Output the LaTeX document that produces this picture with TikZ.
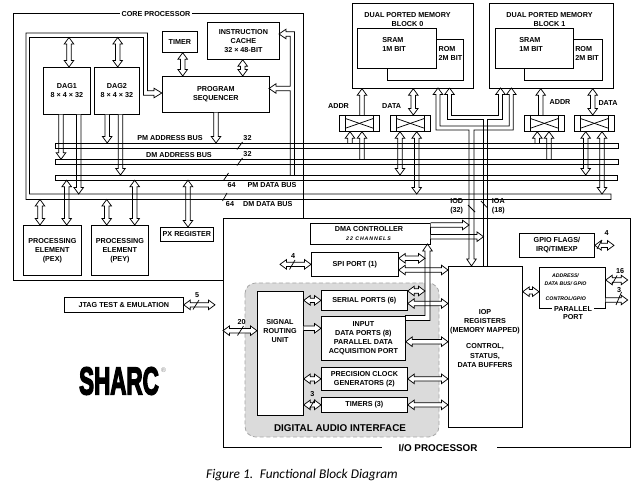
\documentclass[tikz,border=0pt]{standalone}
\usepackage{fontspec}
\setmainfont{Liberation Sans}
\newfontfamily\capfont{Carlito}
\newfontfamily\logofont{Liberation Sans}[BoldFeatures={FakeBold=4.5}]
\usetikzlibrary{calc}
\newcommand\smf{\fontsize{5.4}{6.8}\selectfont\bfseries}
\newcommand\bgf{\fontsize{7.4}{8}\selectfont\bfseries}
\newcommand\tnf{\fontsize{3.9}{6}\selectfont\bfseries\itshape}
\def\aw{1.65pt}\def\ahw{3.6pt}\def\ahl{4.9pt}
\tikzset{
 ln/.style={line width=0.55pt},
 box/.style={draw,ln,fill=white,inner sep=0pt,align=center,font=\smf},
 lbl/.style={inner sep=0pt,align=center,font=\smf},
 sarr/.style={draw,ln,fill=white,to path={
   let \p1=(\tikztostart),\p2=(\tikztotarget),
       \n1={atan2(\y2-\y1,\x2-\x1)},\n2={veclen(\x2-\x1,\y2-\y1)} in
   ($(\p1)+({\n1+90}:\aw)$) -- ($(\p1)+(\n1:{\n2-\ahl})+({\n1+90}:\aw)$)
   -- ($(\p1)+(\n1:{\n2-\ahl})+({\n1+90}:\ahw)$) -- (\p2)
   -- ($(\p1)+(\n1:{\n2-\ahl})+({\n1-90}:\ahw)$) -- ($(\p1)+(\n1:{\n2-\ahl})+({\n1-90}:\aw)$)
   -- ($(\p1)+({\n1-90}:\aw)$)}},
 darr/.style={draw,ln,fill=white,to path={
   let \p1=(\tikztostart),\p2=(\tikztotarget),
       \n1={atan2(\y2-\y1,\x2-\x1)},\n2={veclen(\x2-\x1,\y2-\y1)} in
   ($(\p1)+(\n1:\ahl)+({\n1+90}:\aw)$) -- ($(\p1)+(\n1:{\n2-\ahl})+({\n1+90}:\aw)$)
   -- ($(\p1)+(\n1:{\n2-\ahl})+({\n1+90}:\ahw)$) -- (\p2)
   -- ($(\p1)+(\n1:{\n2-\ahl})+({\n1-90}:\ahw)$) -- ($(\p1)+(\n1:{\n2-\ahl})+({\n1-90}:\aw)$)
   -- ($(\p1)+(\n1:\ahl)+({\n1-90}:\aw)$) -- ($(\p1)+(\n1:\ahl)+({\n1-90}:\ahw)$)
   -- (\p1) -- ($(\p1)+(\n1:\ahl)+({\n1+90}:\ahw)$) -- cycle}},
}
\newcommand\bx[7][]{%
  \pgfmathsetmacro\bxw{(#5-#3)*0.75}%
  \pgfmathsetmacro\bxh{(#6-#4)*0.75}%
  \node[box,minimum width=\bxw pt,minimum height=\bxh pt,anchor=north west,#1] (#2) at (#3,#4) {#7};}
\newcommand\swb[3]{%
  \bx{#1}{#2}{#3}{#2+40}{#3+16}{}%
  \draw[ln] ($(#1.north west)+(6.4,0)$) -- ($(#1.south west)+(6.4,0)$);
  \draw[ln] ($(#1.north east)+(-6.4,0)$) -- ($(#1.south east)+(-6.4,0)$);
  \draw[ln] ($(#1.north west)+(6.4,3.5)$) -- ($(#1.south east)+(-6.4,-3.5)$);
  \draw[ln] ($(#1.south west)+(6.4,-3.5)$) -- ($(#1.north east)+(-6.4,3.5)$);}
\newcommand\col[2]{\coordinate (#1) at (#2,0);}
\newcommand\row[2]{\coordinate (#1) at (0,#2);}
\begin{document}
\begin{tikzpicture}[x=0.75pt,y=-0.75pt]
\useasboundingbox (0,0) rectangle (639,484);
\fill[white] (0,0) rectangle (639,484);

% frames
\draw[ln] (223,280) -- (13,280) -- (13,13) -- (303,13) -- (303,218);
\node[lbl,fill=white,inner xsep=1.5pt,inner ysep=1pt] (corelbl) at (156,14.5) {CORE PROCESSOR};
\draw[ln] (381.7,447) -- (223,447) -- (223,218) -- (630,218) -- (630,447) -- (496.7,447);
\node[font=\bgf,inner sep=0pt] (iolbl) at (438,448) {I/O PROCESSOR};

% DAI
\draw[dash pattern=on 3pt off 2pt,draw=gray!70,fill=gray!28,rounded corners=8pt,line width=0.6pt] (245,283) rectangle (439,437);
\node[font=\bgf,inner sep=0pt] (dailbl) at (340,428.5) {DIGITAL AUDIO INTERFACE};
\fill[white] (405,315.5) -- (425,315.5) -- (425,251) -- (430,251) -- (430,320.5) -- (405,320.5) -- cycle;

% core boxes
\bx{timer}{162}{31}{197}{52}{TIMER}
\bx{icache}{207}{22}{279}{59}{INSTRUCTION\\CACHE\\32 × 48-BIT}
\bx{seq}{162}{76}{269}{112}{PROGRAM\\SEQUENCER}
\bx{dag1}{43}{67}{90}{114}{DAG1\\8 × 4 × 32}
\bx{dag2}{94}{67}{139}{114}{DAG2\\8 × 4 × 32}
\bx{pex}{23}{225}{81}{275}{PROCESSING\\ELEMENT\\(PEX)}
\bx{pey}{91}{225}{148}{275}{PROCESSING\\ELEMENT\\(PEY)}
\bx{pxr}{160}{227}{213}{241}{PX REGISTER}
\bx{jtag}{64}{297}{183}{312}{JTAG TEST \& EMULATION}

% memory
\bx{blk0}{352}{3}{473}{88}{}
\bx{rom0}{387}{39}{463}{80}{}
\bx{sram0}{357}{28}{436}{68}{}
\bx{blk1}{489}{3}{613}{88}{}
\bx{rom1}{524}{39}{602}{80}{}
\bx{sram1}{495}{28}{573}{68}{}
\node[lbl] (b0t) at (407.5,19.3) {DUAL PORTED MEMORY\\BLOCK 0};
\node[lbl] (b1t) at (549.5,19.3) {DUAL PORTED MEMORY\\BLOCK 1};
\node[lbl,align=left,anchor=west] (s0t) at (382,44.5) {SRAM\\1M BIT};
\node[lbl,align=left,anchor=west] (r0t) at (438.3,53.3) {ROM\\2M BIT};
\node[lbl,align=left,anchor=west] (s1t) at (519,44.5) {SRAM\\1M BIT};
\node[lbl,align=left,anchor=west] (r1t) at (575,53.3) {ROM\\2M BIT};
\swb{sw0}{339}{115}
\swb{sw1}{390}{115}
\swb{sw2}{524}{115}
\swb{sw3}{574}{115}
\node[lbl] (la0) at (338.5,106) {ADDR};
\node[lbl] (ld0) at (391.7,106) {DATA};
\node[lbl] (la1) at (560,102) {ADDR};
\node[lbl] (ld1) at (608,103) {DATA};

% IO boxes
\bx{dma}{310}{223}{430}{244}{}
\node[lbl] (dmat) at (369,229.3) {DMA CONTROLLER};
\node[lbl,font=\tnf] (dmac) at (368.5,238.3) {\addfontfeatures{LetterSpace=18}22 CHANNELS};
\bx{spi}{311}{252}{398}{276}{SPI PORT (1)}
\bx{gpio}{519}{233}{594}{257}{GPIO FLAGS/\\IRQ/TIMEXP}
\bx{pp}{539}{267}{605}{308}{}
\node[lbl,font=\tnf] (ppa) at (565.5,280) {ADDRESS/\\DATA BUS/ GPIO};
\node[lbl,font=\tnf] (ppc) at (565.8,298.3) {CONTROL/GPIO};
\node[lbl,fill=white,inner xsep=1.5pt] (ppl) at (573,309) {PARALLEL};
\node[lbl] (ppl2) at (573,317.3) {PORT};
\bx{iop}{448}{266}{522}{427}{}
\node[lbl] (ioptxt) at (485,338.3) {IOP\\REGISTERS\\(MEMORY MAPPED)\\[5.5pt]CONTROL,\\STATUS,\\DATA BUFFERS};
\bx{sru}{257}{291}{303}{415}{}
\node[lbl] (srut) at (280,331.3) {SIGNAL\\ROUTING\\UNIT};
\bx{ser}{321}{290}{407}{310}{SERIAL PORTS (6)}
\bx{idp}{321}{316}{405}{360}{INPUT\\DATA PORTS (8)\\PARALLEL DATA\\ACQUISITION PORT}
\bx{pcg}{321}{367}{407}{390}{PRECISION CLOCK\\GENERATORS (2)}
\bx{tmr}{321}{397}{407}{412}{TIMERS (3)}

% buses (outlines drawn later)
\bx[draw=none,fill=none]{pmab}{55}{143}{618}{147.8}{}
\bx[draw=none,fill=none]{dmab}{55}{159.3}{618}{164}{}
\bx[draw=none,fill=none]{pmdb}{55}{175}{617}{179.5}{}
\row{loopin}{37.5}\row{dmdbt}{194}\row{dmdbb}{199.5}

% columns / rows
\col{cA}{69}\col{cB}{117.7}\col{cC}{182.7}\col{cD}{242.7}\col{cE}{216}
\col{cF}{61}\col{cG}{78.7}\col{cH}{107.2}\col{cI}{120.5}
\col{cJ}{40}\col{cK}{66.7}\col{cL}{106.7}\col{cM}{134.7}\col{cN}{188}
\col{m1}{362}\col{m2}{413.3}\col{m3}{540.7}\col{m4}{592.7}\col{m5}{350}
\col{m7}{400}\col{m8}{416.7}\col{m9}{537.3}\col{m10}{549}\col{m11}{585.7}\col{m12}{602}
\col{iodl}{469}\col{ioal}{483.5}\col{dband}{425}\col{spiext}{280}\col{jtagext}{215}
\col{gpioext}{614}\col{ppext}{627.7}\col{iol}{223}
\row{rA}{225}\row{rB}{236.7}\row{rD}{258.3}\row{rE}{270}\row{rF}{291}\row{rG}{303.5}
\row{rH}{341.7}\row{rL}{328.3}\row{rN}{330.7}\row{rO}{291.7}\row{rQ}{280}\row{rR}{300}

% core arrows
\draw[darr] (cA |- loopin) to (dag1.north -| cA);
\draw[darr] (cB |- loopin) to (dag2.north -| cB);
\draw[darr] (timer.south -| cC) to (seq.north -| cC);
\draw[darr] (icache.south -| cD) to (seq.north -| cD);
\draw[sarr] (seq.south -| cE) to (pmab.north -| cE);
\draw[sarr] (dag1.south -| cF) to (dmab.north -| cF);
\draw[sarr] (dag1.south -| cG) to (cG |- dmdbt);
\draw[sarr] (dag2.south -| cH) to (pmab.north -| cH);
\draw[sarr] (dag2.south -| cI) to (pmdb.north -| cI);
\draw[darr] (cJ |- dmdbb) to (pex.north -| cJ);
\draw[darr] (pmdb.south -| cK) to (pex.north -| cK);
\draw[darr] (cL |- dmdbb) to (pey.north -| cL);
\draw[darr] (pmdb.south -| cM) to (pey.north -| cM);
\draw[darr] (pmdb.south -| cN) to (pxr.north -| cN);
\draw[darr] (jtag.east) to (jtagext |- jtag.east);

% memory arrows
\draw[sarr] (sw0.north -| m1) to (blk0.south -| m1);
\draw[darr] (sw1.north -| m2) to (blk0.south -| m2);
\draw[sarr] (sw2.north -| m3) to (blk1.south -| m3);
\draw[darr] (sw3.north -| m4) to (blk1.south -| m4);
\draw[sarr] (pmab.north -| m5) to (sw0.south -| m5);
\draw[sarr] (dmab.north -| m1) to (sw0.south -| m1);
\draw[darr] (sw1.south -| m7) to (pmdb.north -| m7);
\draw[darr] (sw1.south -| m8) to (m8 |- dmdbt);
\draw[sarr] (pmab.north -| m9) to (sw2.south -| m9);
\draw[sarr] (dmab.north -| m10) to (sw2.south -| m10);
\draw[darr] (sw3.south -| m11) to (pmdb.north -| m11);
\draw[darr] (sw3.south -| m12) to (m12 |- dmdbt);

% IO arrows
\draw[sarr] (dma.east |- rA) to (iodl |- rA);
\draw[sarr] (dma.east |- rB) to (ioal |- rB);
\draw[darr] (spiext |- spi.west) to (spi.west);
\draw[darr] (spi.east |- rD) to (dband |- rD);
\draw[darr] (spi.east |- rE) to (iop.west |- rE);
\draw[darr] (ser.east |- rF) to (dband |- rF);
\draw[darr] (ser.east |- rG) to (iop.west |- rG);
\draw[darr] (idp.east |- rH) to (iop.west |- rH);
\draw[darr] (pcg.east) to (iop.west |- pcg.east);
\draw[darr] (tmr.east) to (iop.west |- tmr.east);
\draw[darr] (sru.east |- ser.west) to (ser.west);
\draw[sarr] (sru.east |- rL) to (idp.west |- rL);
\draw[darr] (sru.east |- pcg.west) to (pcg.west);
\draw[darr] (sru.east |- tmr.west) to (tmr.west);
\draw[darr] (iol |- rN) to (sru.west |- rN);
\draw[darr] (iop.east |- rO) to (pp.west |- rO);
\draw[darr] (gpio.east) to (gpioext |- gpio.east);
\draw[darr] (pp.east |- rQ) to (ppext |- rQ);
\draw[sarr] (pp.east |- rR) to (ppext |- rR);

% bands
\foreach \b in {pmab,dmab,pmdb} \draw[ln] (\b.north west) rectangle (\b.south east);
\draw[ln] (611,199.5) -- (26,199.5) -- (26,33) -- (147.5,33) -- (147.5,90.8) -- (154,90.8) -- (154,88.2) -- (161.8,93) -- (154,97.8) -- (154,95.2) -- (143.5,95.2) -- (143.5,37.5) -- (29.5,37.5) -- (29.5,194) -- (611,194) -- cycle;
\draw[ln] (294.5,175) -- (294.5,31.8) -- (286,31.8) -- (286,29.2) -- (279,34) -- (286,38.8) -- (286,36.2) -- (290.3,36.2) -- (290.3,86.3) -- (276,86.3) -- (276,83.7) -- (269,88.5) -- (276,93.3) -- (276,90.7) -- (290.3,90.7) -- (290.3,175);
\draw[ln] (405,320.5) -- (430,320.5) -- (430,251) -- (432.3,251) -- (427.5,244) -- (422.7,251) -- (425,251) -- (425,315.5) -- (405,315.5);
\draw[ln] (438,88) -- (433.2,94.5) -- (436,94.5) -- (436,130) -- (469,130) -- (469,259) -- (466.7,259) -- (471.5,266) -- (476.3,259) -- (474,259) -- (474,130) -- (513.3,130) -- (513.3,94.5) -- (516.1,94.5) -- (511.3,88) -- (506.5,94.5) -- (509.3,94.5) -- (509.3,126) -- (440,126) -- (440,94.5) -- (442.8,94.5) -- cycle;
\draw[ln] (449.5,88) -- (444.7,94.5) -- (447.5,94.5) -- (447.5,119.5) -- (483.5,119.5) -- (483.5,266);
\draw[ln] (487.5,266) -- (487.5,119.5) -- (502.5,119.5) -- (502.5,94.5) -- (505.3,94.5) -- (500.5,88) -- (495.7,94.5) -- (498.5,94.5) -- (498.5,115.5) -- (451.5,115.5) -- (451.5,94.5) -- (454.3,94.5) -- (449.5,88);

% slashes
\draw[ln] (237,149.5) -- (242.5,142);
\draw[ln] (237,165.5) -- (242.5,158);
\draw[ln] (223.5,180.5) -- (228.5,173);
\draw[ln] (222.5,201) -- (227,193);
\draw[ln] (468,205) -- (475,212);
\draw[ln] (481,201) -- (487,207.5);
\draw[ln] (193,309.5) -- (199,300);
\draw[ln] (289.5,269.5) -- (295,260);
\draw[ln] (237.5,335.5) -- (243.5,326);
\draw[ln] (309.5,408.5) -- (315,399.5);
\draw[ln] (597,249) -- (602,240);
\draw[ln] (612,284.5) -- (617,275.5);
\draw[ln] (616,305) -- (621.5,292);

% labels
\node[lbl] (lpma) at (170,138.3) {PM ADDRESS BUS};
\node[lbl] (lpma2) at (247.5,138.3) {32};
\node[lbl] (ldma) at (179,155) {DM ADDRESS BUS};
\node[lbl] (ldma2) at (247.5,154.5) {32};
\node[lbl] (lpmd2) at (231.7,185) {64};
\node[lbl] (lpmd) at (272,185) {PM DATA BUS};
\node[lbl] (ldmd2) at (230,203.7) {64};
\node[lbl] (ldmd) at (267.8,203.7) {DM DATA BUS};
\node[lbl] (liod) at (456.7,206.7) {IOD\\(32)};
\node[lbl] (lioa) at (498.3,206.7) {IOA\\(18)};
\node[lbl] (n5) at (197,295) {5};
\node[lbl] (n4a) at (293,256) {4};
\node[lbl] (n20) at (241.7,321.7) {20};
\node[lbl] (n3a) at (312.3,394.5) {3};
\node[lbl] (n4b) at (606.7,233.3) {4};
\node[lbl] (n16) at (620,271) {16};
\node[lbl] (n3b) at (619,290) {3};

% logo and caption
\node[inner sep=0pt] (logo) at (119,381) {\scalebox{0.58}[1]{\logofont\bfseries\fontsize{29}{29}\selectfont SHARC}};
\node[inner sep=0pt,text=gray,font=\fontsize{5}{5}\selectfont] (reg) at (163.5,370) {®};
\node[inner sep=0pt,font=\capfont\itshape\fontsize{10}{11}\selectfont] (cap) at (302,475) {Figure 1.\enspace Functional Block Diagram};
\end{tikzpicture}
\end{document}
